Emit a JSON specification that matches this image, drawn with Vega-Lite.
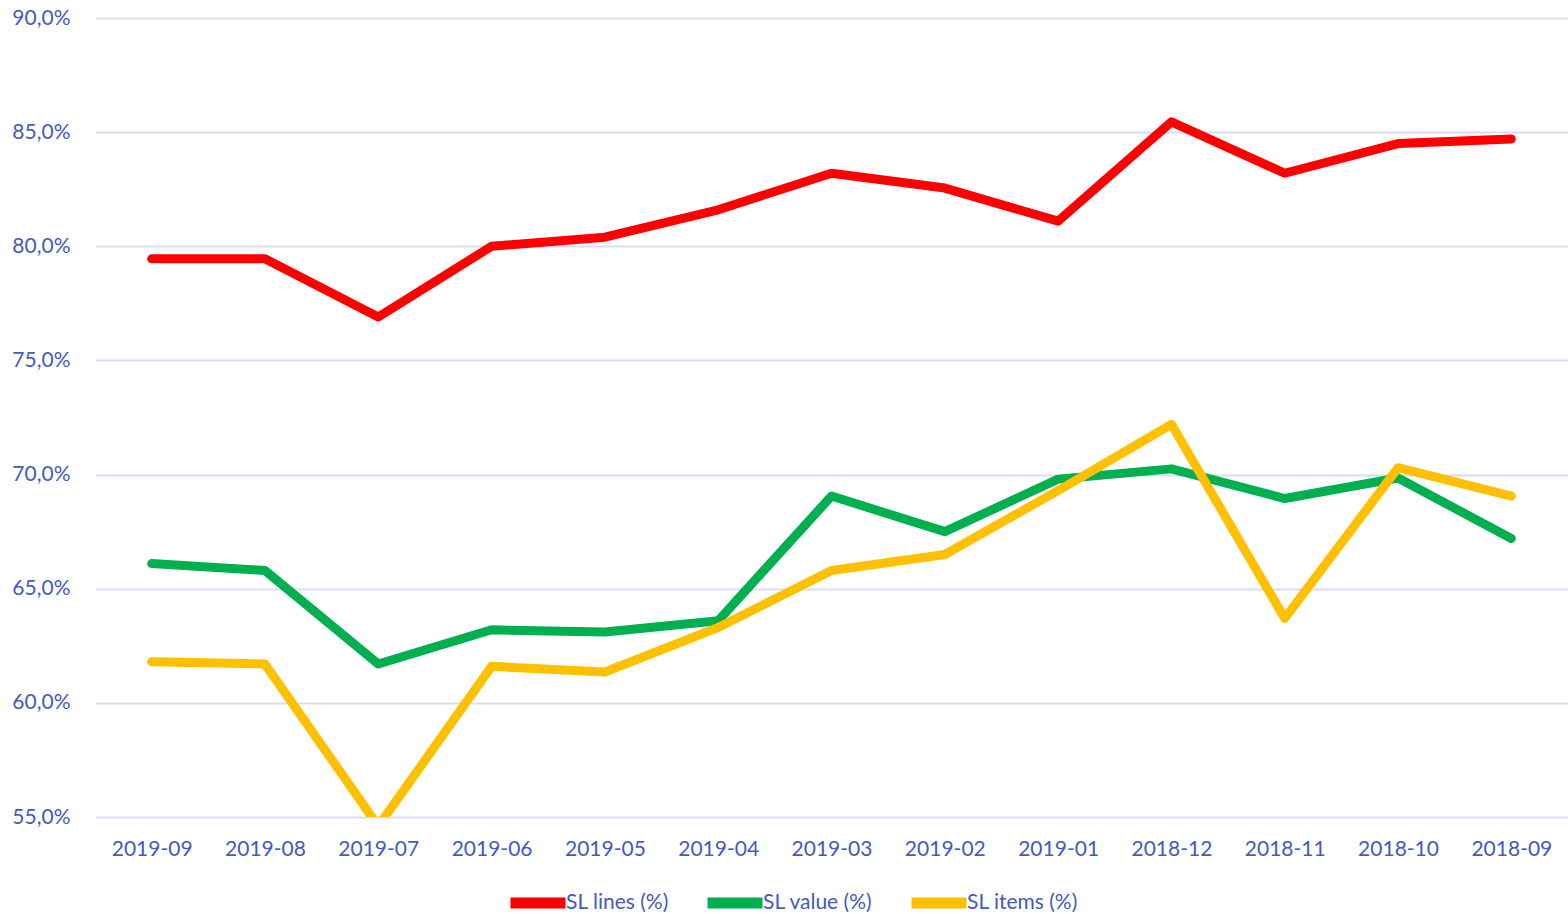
{
  "$schema": "https://vega.github.io/schema/vega-lite/v6.json",
  "width": 1473,
  "height": 799,
  "autosize": {"type": "none"},
  "padding": {"left": 95, "top": 18, "right": 0, "bottom": 97},
  "background": "white",
  "config": {
    "view": {"stroke": null},
    "font": "Lato"
  },
  "data": {
    "values": [
      {"month": "2019-09", "series": "SL lines (%)", "v": 79.45},
      {"month": "2019-08", "series": "SL lines (%)", "v": 79.45},
      {"month": "2019-07", "series": "SL lines (%)", "v": 76.9},
      {"month": "2019-06", "series": "SL lines (%)", "v": 80.0},
      {"month": "2019-05", "series": "SL lines (%)", "v": 80.4},
      {"month": "2019-04", "series": "SL lines (%)", "v": 81.6},
      {"month": "2019-03", "series": "SL lines (%)", "v": 83.2},
      {"month": "2019-02", "series": "SL lines (%)", "v": 82.55},
      {"month": "2019-01", "series": "SL lines (%)", "v": 81.1},
      {"month": "2018-12", "series": "SL lines (%)", "v": 85.45},
      {"month": "2018-11", "series": "SL lines (%)", "v": 83.2},
      {"month": "2018-10", "series": "SL lines (%)", "v": 84.5},
      {"month": "2018-09", "series": "SL lines (%)", "v": 84.7},
      {"month": "2019-09", "series": "SL value (%)", "v": 66.1},
      {"month": "2019-08", "series": "SL value (%)", "v": 65.8},
      {"month": "2019-07", "series": "SL value (%)", "v": 61.7},
      {"month": "2019-06", "series": "SL value (%)", "v": 63.2},
      {"month": "2019-05", "series": "SL value (%)", "v": 63.1},
      {"month": "2019-04", "series": "SL value (%)", "v": 63.6},
      {"month": "2019-03", "series": "SL value (%)", "v": 69.06},
      {"month": "2019-02", "series": "SL value (%)", "v": 67.5},
      {"month": "2019-01", "series": "SL value (%)", "v": 69.8},
      {"month": "2018-12", "series": "SL value (%)", "v": 70.25},
      {"month": "2018-11", "series": "SL value (%)", "v": 68.95},
      {"month": "2018-10", "series": "SL value (%)", "v": 69.85},
      {"month": "2018-09", "series": "SL value (%)", "v": 67.2},
      {"month": "2019-09", "series": "SL items (%)", "v": 61.8},
      {"month": "2019-08", "series": "SL items (%)", "v": 61.7},
      {"month": "2019-07", "series": "SL items (%)", "v": 54.6},
      {"month": "2019-06", "series": "SL items (%)", "v": 61.6},
      {"month": "2019-05", "series": "SL items (%)", "v": 61.35},
      {"month": "2019-04", "series": "SL items (%)", "v": 63.3},
      {"month": "2019-03", "series": "SL items (%)", "v": 65.8},
      {"month": "2019-02", "series": "SL items (%)", "v": 66.5},
      {"month": "2019-01", "series": "SL items (%)", "v": 69.3},
      {"month": "2018-12", "series": "SL items (%)", "v": 72.2},
      {"month": "2018-11", "series": "SL items (%)", "v": 63.7},
      {"month": "2018-10", "series": "SL items (%)", "v": 70.3},
      {"month": "2018-09", "series": "SL items (%)", "v": 69.06}
    ]
  },
  "mark": {"type": "line", "strokeWidth": 9, "strokeCap": "round", "strokeJoin": "round", "clip": true},
  "encoding": {
    "x": {
      "field": "month",
      "type": "ordinal",
      "sort": null,
      "scale": {"type": "point", "padding": 0.5},
      "axis": {
        "title": null,
        "labelAngle": 0,
        "domain": false,
        "ticks": false,
        "labelPadding": 21,
        "labelFontSize": 21,
        "labelColor": "#4758C0",
        "labelFont": "Lato"
      }
    },
    "y": {
      "field": "v",
      "type": "quantitative",
      "scale": {"domain": [55, 90], "nice": false, "zero": false},
      "axis": {
        "title": null,
        "values": [55, 60, 65, 70, 75, 80, 85, 90],
        "labelExpr": "replace(format(datum.value, '.1f'), '.', ',') + '%'",
        "domain": false,
        "ticks": false,
        "labelPadding": 25,
        "labelFontSize": 21,
        "labelColor": "#4758C0",
        "labelFont": "Lato",
        "gridColor": "#D9DDF1",
        "gridWidth": 2,
        "gridOpacity": 1
      }
    },
    "color": {
      "field": "series",
      "type": "nominal",
      "sort": ["SL lines (%)", "SL value (%)", "SL items (%)"],
      "scale": {
        "domain": ["SL lines (%)", "SL value (%)", "SL items (%)"],
        "range": ["#FF0000", "#00B050", "#FFC000"]
      },
      "legend": {
        "title": null,
        "orient": "none",
        "direction": "horizontal",
        "legendX": 410,
        "legendY": 852,
        "symbolType": "M-1,0H1",
        "symbolSize": 3025,
        "symbolStrokeWidth": 11,
        "labelFontSize": 21,
        "labelColor": "#4758C0",
        "labelFont": "Lato",
        "labelOffset": -5,
        "columnPadding": 16
      }
    },
    "order": {"field": "series"}
  }
}
